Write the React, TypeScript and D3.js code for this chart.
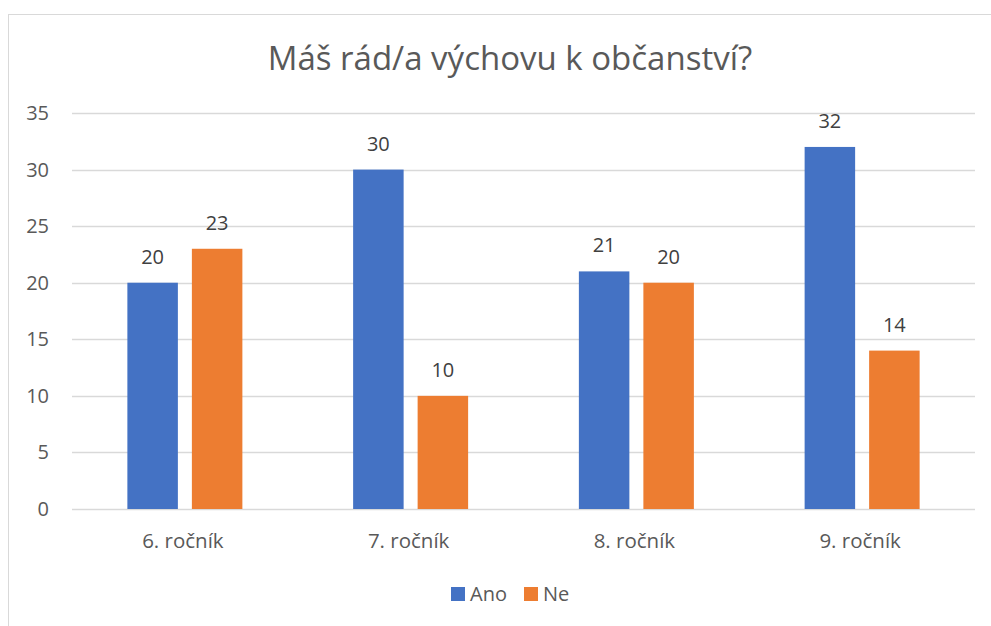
import React, { useEffect, useRef } from "react";
import * as d3 from "d3";

const categories = ["6. ročník", "7. ročník", "8. ročník", "9. ročník"];
const seriesNames = ["Ano", "Ne"];
const anoValues = [20, 30, 21, 32];
const neValues = [23, 10, 20, 14];
const yTicks = [0, 5, 10, 15, 20, 25, 30, 35];
const colors = ["#4472C4", "#ED7D31"];

const App: React.FC = () => {
  const chartRef = useRef<HTMLDivElement>(null);

  useEffect(() => {
    const root = d3.select(chartRef.current);
    root.selectAll("*").remove();

    const W = 991, H = 626;
    const font = "'Open Sans', sans-serif";
    const svg = root
      .append("svg")
      .attr("width", W)
      .attr("height", H)
      .style("position", "absolute")
      .style("left", 0)
      .style("top", 0)
      .style("font-family", font);

    svg.append("rect").attr("width", W).attr("height", H).attr("fill", "#fff");

    // chart border
    svg.append("rect")
      .attr("x", 8.5).attr("y", 14.5)
      .attr("width", 1000).attr("height", 700)
      .attr("fill", "none").attr("stroke", "#d9d9d9").attr("stroke-width", 1);

    const plot = { left: 72, right: 975, top: 113, bottom: 509 };

    const x = d3.scaleBand().domain(categories).range([plot.left, plot.right]);
    const y = d3.scaleLinear().domain([0, 35]).range([plot.bottom, plot.top]);

    // gridlines
    svg.append("g").selectAll("line")
      .data(yTicks)
      .enter()
      .append("line")
      .attr("x1", plot.left).attr("x2", plot.right)
      .attr("y1", d => Math.round(y(d)) + 0.5).attr("y2", d => Math.round(y(d)) + 0.5)
      .attr("stroke", "#d9d9d9").attr("stroke-width", 1.5);

    // y tick labels
    svg.append("g").selectAll("text")
      .data(yTicks)
      .enter()
      .append("text")
      .attr("x", 49).attr("y", d => y(d) + 7)
      .attr("text-anchor", "end")
      .attr("font-size", 20).attr("fill", "#595959")
      .text(d => d);

    const barW = 50.5, gap = 14;
    const series = [anoValues, neValues];

    series.forEach((vals, si) => {
      const off = si === 0 ? -gap / 2 - barW : gap / 2;
      const g = svg.append("g");
      g.selectAll("rect")
        .data(vals)
        .enter()
        .append("rect")
        .attr("x", (d, i) => x(categories[i])! + x.bandwidth() / 2 + off)
        .attr("y", d => y(d))
        .attr("width", barW)
        .attr("height", d => y(0) - y(d))
        .attr("fill", colors[si]);

      g.selectAll("text")
        .data(vals)
        .enter()
        .append("text")
        .attr("x", (d, i) => x(categories[i])! + x.bandwidth() / 2 + off + barW / 2)
        .attr("y", d => y(d) - 19)
        .attr("text-anchor", "middle")
        .attr("font-size", 20).attr("fill", "#404040")
        .text(d => d);
    });

    // category labels
    svg.append("g").selectAll("text")
      .data(categories)
      .enter()
      .append("text")
      .attr("x", d => x(d)! + x.bandwidth() / 2 - 2)
      .attr("y", 548)
      .attr("text-anchor", "middle")
      .attr("font-size", 20.5).attr("fill", "#595959")
      .text(d => d);

    // title
    svg.append("text")
      .attr("x", 510).attr("y", 70)
      .attr("text-anchor", "middle")
      .attr("font-size", 33).attr("fill", "#595959")
      .text("Máš rád/a výchovu k občanství?");

    // legend
    const legendX = [451, 524];
    const lg = svg.append("g");
    seriesNames.forEach((name, i) => {
      lg.append("rect")
        .attr("x", legendX[i]).attr("y", 587)
        .attr("width", 14).attr("height", 14)
        .attr("fill", colors[i]);
      lg.append("text")
        .attr("x", legendX[i] + 19).attr("y", 601)
        .attr("font-size", 20).attr("fill", "#595959")
        .text(name);
    });
  }, []);

  return <div ref={chartRef}></div>;
};

export default App;
